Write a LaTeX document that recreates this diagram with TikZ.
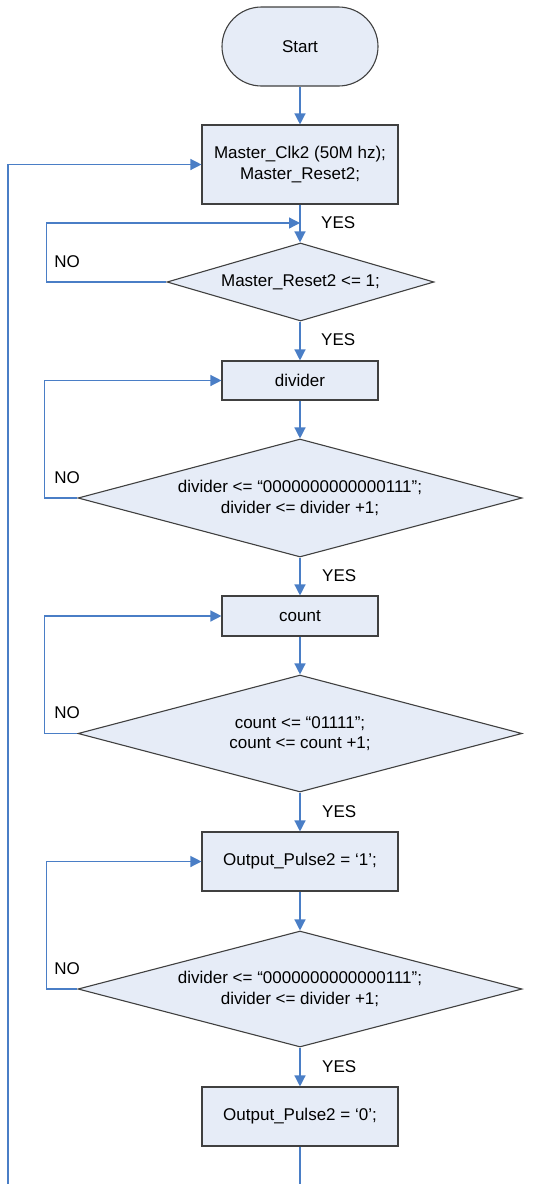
\documentclass[tikz,border=0pt]{standalone}
\usepackage{fontspec}
\setmainfont{Liberation Sans}
\usetikzlibrary{shapes.geometric,shapes.misc,arrows.meta}
\definecolor{boxfill}{HTML}{E6ECF7}
\definecolor{boxline}{HTML}{404040}
\definecolor{conn}{HTML}{4A7EC6}
\tikzset{
  txt/.style={font=\fontsize{17}{20.5}\selectfont},
  terminal/.style={txt, rounded rectangle, draw=boxline, fill=boxfill, line width=1.1pt, minimum width=156pt, minimum height=79pt, inner sep=0pt},
  procbox/.style={txt, rectangle, draw=boxline, fill=boxfill, line width=1.1pt, align=center, inner sep=0pt},
  decision/.style={txt, diamond, draw=boxline, fill=boxfill, line width=1.1pt, align=center, inner sep=0pt},
  conarrow/.style={draw=conn, line width=1.3pt, -{Triangle[length=11pt,width=11pt]}},
  conline/.style={draw=conn, line width=1.3pt},
  lbl/.style={txt, inner sep=0pt}
}
\begin{document}
\begin{tikzpicture}[x=1pt,y=-1pt]
\useasboundingbox (0,0) rectangle (543,1184);

\node[terminal] (start) at (300,46.5) {Start};
\node[procbox, minimum width=196pt, minimum height=79pt] (b1) at (300,164.5) {Master\_Clk2 (50M hz);\\Master\_Reset2;};
\node[decision, shape aspect=3.42, minimum width=267pt, minimum height=78pt] (d1) at (300.5,282) {Master\_Reset2 <= 1;};
\node[procbox, minimum width=156pt, minimum height=39pt] (div) at (300,380.5) {divider};
\node[decision, shape aspect=3.76, minimum width=444pt, minimum height=118pt] (d2) at (300,498) {divider <= “0000000000000111”;\\divider <= divider +1;};
\node[procbox, minimum width=156pt, minimum height=40pt] (cnt) at (300,616) {count};
\node[decision, shape aspect=3.79, minimum width=444pt, minimum height=117pt] (d3) at (300,733.5) {count <= “01111”;\\count <= count +1;};
\node[procbox, minimum width=196pt, minimum height=59pt] (op1) at (300,861.5) {Output\_Pulse2 = ‘1’;};
\node[decision, shape aspect=3.83, minimum width=444pt, minimum height=116pt] (d4) at (300,989) {divider <= “0000000000000111”;\\divider <= divider +1;};
\node[procbox, minimum width=196pt, minimum height=59pt] (op2) at (300,1116.5) {Output\_Pulse2 = ‘0’;};

\coordinate (j1) at (300,223);
\coordinate (endmid) at (300,1184);
\coordinate (endleft) at (8,1184);

% labels
\node[lbl, anchor=west] (y1) at (321,223) {YES};
\node[lbl] (n1) at (67,262) {NO};
\node[lbl, anchor=west] (y2) at (321,340) {YES};
\node[lbl] (n2) at (67,478) {NO};
\node[lbl, anchor=west] (y3) at (322,576) {YES};
\node[lbl] (n3) at (67,713) {NO};
\node[lbl, anchor=west] (y4) at (322,812) {YES};
\node[lbl] (n4) at (67,969) {NO};
\node[lbl, anchor=west] (y5) at (322,1067) {YES};

% main flow
\draw[conarrow] (start.south) -- (b1.north);
\draw[conarrow] (b1.south) -- (d1.north -| b1.south);
\draw[conarrow] (d1.south -| b1.south) -- (div.north);
\draw[conarrow] (div.south) -- (d2.north);
\draw[conarrow] (d2.south) -- (cnt.north);
\draw[conarrow] (cnt.south) -- (d3.north);
\draw[conarrow] (d3.south) -- (op1.north);
\draw[conarrow] (op1.south) -- (d4.north);
\draw[conarrow] (d4.south) -- (op2.north);
\draw[conline] (op2.south) -- (endmid);

% NO loops
\draw[conarrow] (d1.west) -- ++(-120,0) |- (j1);
\draw[conarrow] (d2.west) -- ++(-33,0) |- (div.west);
\draw[conarrow] (d3.west) -- ++(-33,0) |- (cnt.west);
\draw[conarrow] (d4.west) -- ++(-31,0) |- (op1.west);

% big return loop
\draw[conarrow] (endleft) |- (b1.west);
\end{tikzpicture}
\end{document}
